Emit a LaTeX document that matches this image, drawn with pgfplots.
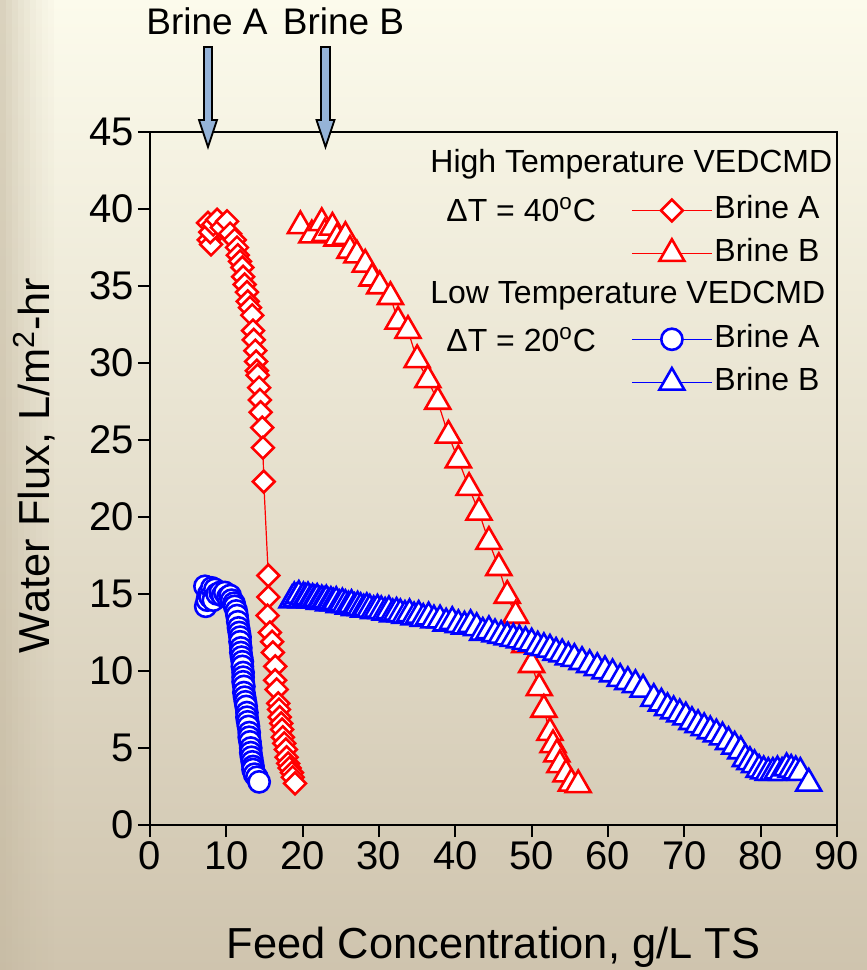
\documentclass[border=0pt]{standalone}
\usepackage{fontspec}
\setmainfont{Liberation Sans}
\usepackage{pgfplots}
\usepackage{pgfplotstable}
\pgfplotsset{compat=1.18}
\definecolor{bgtop}{RGB}{252,251,236}
\definecolor{bgmid}{RGB}{238,233,213}
\definecolor{bgbot}{RGB}{207,196,174}
\definecolor{stripe}{RGB}{196,184,160}
\definecolor{arrowblue}{RGB}{149,179,215}

\pgfplotstableread{
x y
7.7 38.0
7.6 39.1
8.0 37.7
7.9 38.5
8.3 39.0
8.8 39.3
9.4 38.8
10.1 39.2
10.5 38.4
11.1 38.0
11.4 37.5
11.5 37.0
11.8 36.6
12.1 36.2
12.2 35.6
12.4 35.1
12.7 34.6
12.8 34.0
13.1 33.6
13.4 33.1
13.5 32.1
13.6 31.5
13.8 30.8
13.9 30.1
14.0 29.5
14.1 29.2
14.3 28.4
14.4 27.6
14.5 26.8
14.7 25.8
14.8 24.5
14.9 22.3
15.5 16.2
15.5 14.8
15.4 13.6
15.7 12.5
16.0 11.9
16.1 11.2
16.4 10.3
16.4 9.4
16.6 8.8
16.8 7.9
16.9 7.5
17.0 7.0
17.2 6.6
17.3 6.2
17.4 5.7
17.6 5.3
17.8 4.9
17.9 4.4
18.1 4.0
18.3 3.7
18.6 3.4
18.7 3.1
19.0 2.7
}\hiA

\pgfplotstableread{
x y
19.7 38.9
21.2 38.3
22.5 39.1
22.9 38.4
23.9 38.8
24.5 38.1
25.6 38.2
26.2 37.3
27.1 37.0
28.2 36.4
29.1 35.5
30.1 35.0
31.5 34.3
32.5 32.7
33.8 32.1
35.0 30.2
36.4 28.9
37.7 27.5
39.1 25.3
40.4 23.7
41.8 21.9
43.1 20.3
44.4 18.4
45.7 16.7
46.8 14.9
47.9 13.6
49.1 11.7
50.0 10.4
51.0 8.9
51.6 7.5
52.4 6.0
52.8 5.2
53.3 4.6
53.7 3.9
54.5 3.3
55.2 2.7
56.1 2.6
}\hiB

\pgfplotstableread{
x y
7.2 15.5
7.3 14.2
7.5 14.6
7.7 15.0
7.9 14.8
8.1 15.4
8.3 14.6
8.5 15.3
8.8 15.0
9.2 15.1
9.5 14.9
9.8 15.1
10.2 14.8
10.5 14.9
10.7 14.6
11.0 14.4
11.1 14.2
11.3 13.9
11.4 13.6
11.5 13.2
11.6 12.8
11.7 12.5
11.8 12.2
11.8 11.9
11.9 11.5
11.9 11.2
12.0 10.9
12.1 10.6
12.1 10.3
12.2 9.9
12.2 9.6
12.2 9.3
12.3 9.0
12.3 8.6
12.4 8.3
12.5 8.0
12.6 7.7
12.7 7.3
12.7 7.0
12.8 6.7
12.9 6.4
13.0 6.0
13.0 5.7
13.1 5.4
13.2 5.0
13.2 4.7
13.3 4.4
13.4 4.1
13.5 3.8
13.5 3.6
13.7 3.3
14.0 3.1
14.3 2.8
}\loA

\pgfplotstableread{
x y
18.6 14.6
18.9 14.8
19.2 14.7
19.5 14.9
19.8 14.6
20.1 14.8
20.4 14.7
20.7 14.8
21.0 14.6
21.3 14.7
21.6 14.6
21.9 14.7
22.2 14.5
22.5 14.6
22.8 14.5
23.1 14.6
23.4 14.4
23.7 14.5
24.0 14.4
24.4 14.5
24.8 14.3
25.2 14.4
25.6 14.3
26.0 14.2
26.4 14.3
26.8 14.1
27.2 14.2
27.6 14.1
28.0 14.0
28.4 14.1
28.8 14.0
29.3 13.9
29.8 14.0
30.3 13.9
30.8 13.8
31.3 13.9
31.8 13.7
32.3 13.8
32.8 13.7
33.4 13.6
34.0 13.7
34.6 13.5
35.2 13.6
35.8 13.4
36.5 13.5
37.2 13.3
38.0 13.3
38.8 13.1
39.6 13.2
40.4 13.0
41.2 12.9
42.0 13.0
42.8 12.8
43.6 12.5
44.4 12.6
45.2 12.4
46.0 12.3
46.8 12.2
47.6 12.1
48.4 12.0
49.2 11.9
50.0 11.8
50.8 11.6
51.6 11.5
52.4 11.4
53.2 11.2
54.0 11.1
54.8 10.9
55.6 10.8
56.6 10.6
57.6 10.4
58.6 10.2
59.6 10.0
60.6 9.8
61.6 9.5
62.6 9.3
63.6 9.1
64.6 8.8
66.0 8.2
67.0 7.9
67.8 7.6
68.6 7.4
69.4 7.2
70.2 7.0
71.0 6.7
71.8 6.5
72.6 6.3
73.4 6.1
74.2 5.9
75.0 5.7
75.8 5.4
76.6 5.1
77.4 4.8
78.0 4.3
78.6 4.1
79.2 3.9
79.8 3.6
80.4 3.5
81.0 3.4
81.6 3.4
82.2 3.5
82.8 3.4
83.4 3.7
84.0 3.6
84.6 3.5
85.2 3.4
86.3 2.7
}\loB

\begin{document}
\begin{tikzpicture}
\useasboundingbox (0,0) rectangle (433.5pt,485pt);
\shade[top color=bgtop, middle color=bgmid, bottom color=bgbot] (0,0) rectangle (433.5pt,485pt);
\foreach \i/\o in {0/0.6,1/0.5,2/0.42,3/0.34,4/0.27,5/0.2,6/0.14,7/0.09,8/0.05}{
  \fill[stripe, opacity=\o] (\i*3pt,0pt) rectangle (\i*3pt+3pt,485pt);
}
\begin{axis}[
  at={(75pt,72.5pt)}, anchor=south west,
  scale only axis, width=343.5pt, height=346.5pt,
  xmin=0, xmax=90, ymin=0, ymax=45,
  xtick={0,10,...,90}, ytick={0,5,...,45},
  tick align=outside, xtick pos=bottom, ytick pos=left,
  major tick length=6pt,
  axis line style={line width=1pt},
  every tick/.style={black, line width=1pt},
  ticklabel style={font=\fontsize{20}{24}\selectfont},
  yticklabel style={inner sep=2pt},
  xticklabel style={inner sep=2pt},
  /pgf/number format/assume math mode=true,
  xlabel={Feed Concentration, g/L TS},
  ylabel={Water Flux, L/m\textsuperscript{2}-hr},
  label style={font=\fontsize{21.7}{26}\selectfont},
  xlabel style={at={(axis description cs:0.5,0)}, anchor=base, yshift=-66.5pt},
  ylabel style={at={(axis description cs:-0.1456,0.519)}, anchor=base},
  legend style={draw=none, fill=none, at={(axis cs:63.0,40.84)}, anchor=north west,
    inner sep=0pt, row sep=7.4pt, column sep=1pt,
    font=\fontsize{16}{18}\selectfont,
    nodes={inner sep=0pt, text height=11pt, text depth=3pt}},
  legend cell align=left,
  legend image code/.code={\draw[mark repeat=2,mark phase=2,#1] plot coordinates {(0pt,0pt) (20pt,0pt) (40pt,0pt)};},
]
\addplot[red, line width=0.6pt, mark=square*, mark size=3.85pt, mark options={fill=white, line width=1.3pt, rotate=45}] table {\hiA};
\addlegendentry{Brine A}
\addplot[red, line width=0.6pt, mark=triangle*, mark size=7.2pt, mark options={fill=white, line width=1.3pt}] table {\hiB};
\addlegendentry{Brine B}
\addlegendimage{empty legend}
\addlegendentry{}
\addplot[blue, line width=0.6pt, mark=*, mark size=5.3pt, mark options={fill=white, line width=1.3pt}] table {\loA};
\addlegendentry{Brine A}
\addplot[blue, line width=0.6pt, mark=triangle*, mark size=7.2pt, mark options={fill=white, line width=1.3pt}] table {\loB};
\addlegendentry{Brine B}
\end{axis}
\begin{scope}[x=0.5pt, y=-0.5pt, shift={(0pt,485pt)}]
\begin{scope}[every node/.style={anchor=base west, inner sep=0pt, font=\fontsize{16}{18}\selectfont}]
\node at (430,173) {High Temperature VEDCMD};
\node at (446,222) {ΔT = 40\textsuperscript{o}C};
\node at (430,304) {Low Temperature VEDCMD};
\node at (446,352) {ΔT = 20\textsuperscript{o}C};
\end{scope}
\node[anchor=base, inner sep=0pt, font=\fontsize{18.5}{21}\selectfont] at (207,35) {Brine A};
\node[anchor=base, inner sep=0pt, font=\fontsize{18.5}{21}\selectfont] at (343.5,35) {Brine B};
\draw[fill=arrowblue, line width=0.9pt, line join=miter]
  (204,47) -- (212,47) -- (212,120) -- (217,120) -- (208,147) -- (199,120) -- (204,120) -- cycle;
\draw[fill=arrowblue, line width=0.9pt, line join=miter]
  (321,47) -- (330,47) -- (330,120) -- (334.5,120) -- (325.5,147) -- (316.5,120) -- (321,120) -- cycle;
\end{scope}
\end{tikzpicture}
\end{document}
